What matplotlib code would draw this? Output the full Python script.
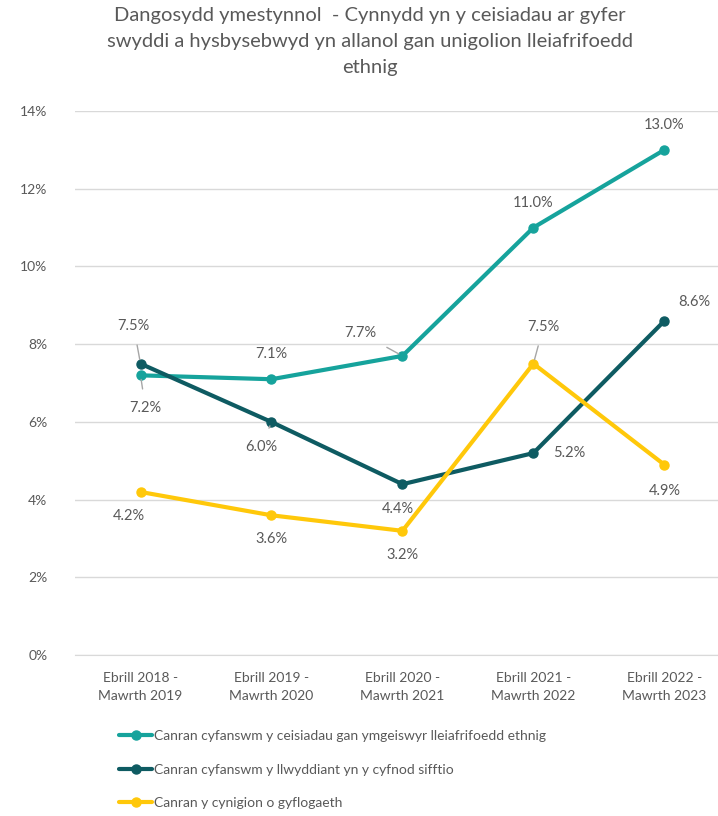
import matplotlib
matplotlib.use("Agg")
import matplotlib.pyplot as plt
from matplotlib.ticker import FuncFormatter

plt.rcParams["font.family"] = ["Lato", "DejaVu Sans"]

# Data
periods = ["Ebrill 2018 -\nMawrth 2019", "Ebrill 2019 -\nMawrth 2020", "Ebrill 2020 -\nMawrth 2021",
           "Ebrill 2021 -\nMawrth 2022", "Ebrill 2022 -\nMawrth 2023"]
applications = [7.2, 7.1, 7.7, 11.0, 13.0]
shortlisted = [7.5, 6.0, 4.4, 5.2, 8.6]
offers = [4.2, 3.6, 3.2, 7.5, 4.9]

names = ["Canran cyfanswm y ceisiadau gan ymgeiswyr lleiafrifoedd ethnig",
         "Canran cyfanswm y llwyddiant yn y cyfnod sifftio",
         "Canran y cynigion o gyflogaeth"]
colors = ["#16A39C", "#0E5B62", "#FFC80A"]
text_col = "#595959"

# label offsets in pixels (dx, dy) and whether a leader line is drawn
offsets = [
    [(5, -33, True), (0, 25, False), (-42, 23, True), (0, 25, False), (0, 25, False)],
    [(-7, 38, True), (-10, -25, True), (-5, -25, False), (36, 0, False), (30, 19, False)],
    [(-12, -24, False), (0, -24, False), (0, -24, False), (10, 37, True), (0, -26, False)],
]

fig = plt.figure(figsize=(7.18, 8.16), dpi=100)
ax = fig.add_axes([0.1045, 0.197, 0.912, 0.667])

x = list(range(len(periods)))
for series, name, col, offs in zip([applications, shortlisted, offers], names, colors, offsets):
    ax.plot(x, series, color=col, linewidth=3, marker="o", markersize=6.5, label=name,
            solid_capstyle="round", zorder=3)
    for xi, yi, (dx, dy, lead) in zip(x, series, offs):
        kw = {}
        if lead:
            kw["arrowprops"] = dict(arrowstyle="-", color="#A6A6A6", lw=1, shrinkA=7, shrinkB=3)
        ax.annotate(f"{yi:.1f}%", (xi, yi), xytext=(dx, dy), textcoords="offset pixels",
                    ha="center", va="center", fontsize=10.5, color=text_col, zorder=4, **kw)

ax.set_xlim(-0.5, len(periods) - 0.5)
ax.set_ylim(0, 14)
ax.set_yticks(range(0, 15, 2))
ax.yaxis.set_major_formatter(FuncFormatter(lambda v, p: f"{v:.0f}%"))
ax.set_xticks(x)
ax.set_xticklabels(periods, fontsize=10, color=text_col, linespacing=1.6)
ax.tick_params(axis="y", labelsize=10, labelcolor=text_col, length=0, pad=20)
ax.tick_params(axis="x", length=0, pad=12)
ax.grid(axis="y", color="#D9D9D9", linewidth=1)
ax.set_axisbelow(True)
for s in ["top", "right", "left"]:
    ax.spines[s].set_visible(False)
ax.spines["bottom"].set_color("#D9D9D9")

fig.text(0.515, 0.992, "Dangosydd ymestynnol  - Cynnydd yn y ceisiadau ar gyfer\n"
         "swyddi a hysbysebwyd yn allanol gan unigolion lleiafrifoedd\nethnig",
         ha="center", va="top", fontsize=14.5, color=text_col, linespacing=1.65)

fig.legend(loc="upper left", bbox_to_anchor=(0.158, 0.112), frameon=False, fontsize=10,
           labelcolor=text_col, handlelength=2.4, handletextpad=0.1, labelspacing=1.55,
           borderaxespad=0)

fig.savefig("out.png", dpi=100)
